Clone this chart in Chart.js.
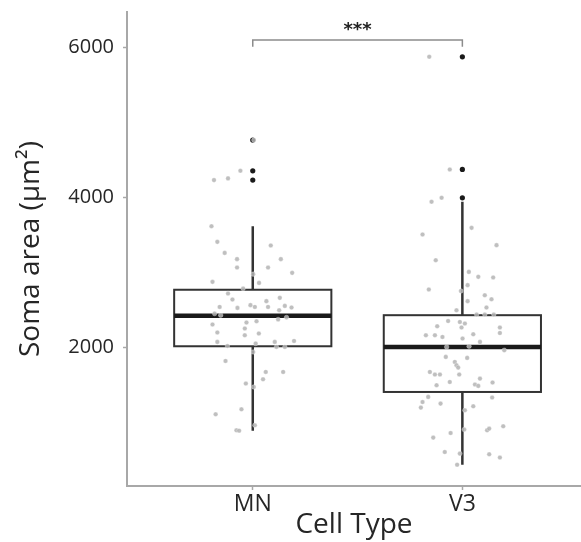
<!DOCTYPE html>
<html>
<head>
<meta charset="utf-8">
<script src="https://cdn.jsdelivr.net/npm/chart.js@4.4.1/dist/chart.umd.min.js"></script>
<style>
  html, body { margin: 0; padding: 0; background: #ffffff; }
  #wrap { width: 581px; height: 542px; }
</style>
</head>
<body>
<div id="wrap"><canvas id="chart" width="581" height="542"></canvas></div>
<script>
// Categories and y tick labels
const categories = ['MN', 'V3'];
const yTickValues = [2000, 4000, 6000];

// Box statistics, one entry per category
const q1Values = [2013, 1404];
const medianValues = [2418, 2004];
const q3Values = [2766, 2427];
const whiskerLowValues = [888, 434];
const whiskerHighValues = [3613, 3938];

// Outliers drawn at the category centre
const mnOutliers = [4227, 4351, 4760];
const v3Outliers = [3991, 4369, 5870];

// Individual cells (soma area) with their horizontal jitter offsets
const mnValues = [4227, 4250, 4351, 4760, 3613, 3404, 3257, 3174, 3062, 3356, 3174, 3062, 2991, 2974, 2857, 2871,
  2783, 2716, 2636, 2561, 2537, 2524, 2614, 2537, 2658, 2551, 2529, 2493, 2449, 2427, 2537, 2370, 2396, 2346,
  2329, 2303, 2197, 2250, 2160, 2183, 2071, 2017, 2050, 2071, 2004, 2004, 2084, 1937, 1817, 1671, 1671, 1573,
  1516, 1471, 1173, 1107, 960, 893, 888];
const mnJitter = [-0.185, -0.118, -0.059, 0.005, -0.197, -0.169, -0.134, -0.075, -0.075, 0.086, 0.134, 0.073, 0.188,
  0.002, 0.03, -0.192, -0.046, -0.118, -0.097, -0.011, 0.01, -0.073, 0.065, 0.073, 0.129, 0.153, 0.185, 0.126,
  -0.182, -0.153, -0.158, 0.121, 0.161, 0.018, -0.03, -0.192, -0.169, -0.038, -0.038, 0.029, -0.169, -0.121,
  0.014, 0.105, 0.113, 0.153, 0.197, 0.002, -0.13, 0.062, 0.145, 0.049, -0.033, 0.005, -0.054, -0.177, 0.01,
  -0.078, -0.065];

const v3Values = [5870, 4369, 3938, 3991, 3503, 3591, 3360, 3160, 3004, 2938, 2930, 2770, 2827, 2750, 2693, 2640,
  2614, 2529, 2493, 2436, 2436, 2436, 2350, 2337, 2316, 2280, 2263, 2263, 2190, 2160, 2160, 2137, 2173, 2116,
  2071, 2004, 2013, 1960, 1871, 1858, 1804, 1760, 1729, 1671, 1636, 1636, 1636, 1582, 1494, 1537, 1503, 1485,
  1530, 1338, 1270, 1196, 1249, 1213, 1330, 1160, 947, 893, 916, 857, 796, 903, 604, 583, 574, 530, 434];
const v3Jitter = [-0.158, -0.06, -0.147, -0.099, -0.19, 0.044, 0.163, -0.127, 0.031, 0.076, 0.147, -0.16, 0.025,
  -0.007, 0.107, 0.139, 0.025, 0.115, -0.028, 0.068, 0.107, 0.15, -0.068, -0.012, 0.012, -0.12, -0.004, 0.179,
  0.179, -0.174, -0.131, -0.095, 0.052, 0.001, 0.084, -0.075, 0.032, 0.2, -0.079, 0.023, -0.036, -0.028, -0.02,
  -0.155, -0.131, -0.107, -0.015, 0.084, -0.123, -0.06, 0.06, 0.076, 0.144, -0.163, -0.19, -0.198, -0.104, 0.052,
  0.142, 0.012, 0.195, 0.118, 0.128, -0.056, -0.139, 0.009, -0.084, -0.012, 0.128, 0.179, -0.025];

// Significance bracket between the two groups
const bracketValue = 6093;
const bracketDrop = 6004;
const significanceLabel = '***';

const FONT = "'Open Sans', 'DejaVu Sans', sans-serif";
const AXIS_GREY = '#a8a8a8';
const TEXT_DARK = '#262626';
const BOX_WIDTH = 0.75;

const jitterPoints = [
  ...mnValues.map((v, i) => ({ x: 1 + mnJitter[i], y: v })),
  ...v3Values.map((v, i) => ({ x: 2 + v3Jitter[i], y: v }))
];
const outlierPoints = [
  ...mnOutliers.map(v => ({ x: 1, y: v })),
  ...v3Outliers.map(v => ({ x: 2, y: v }))
];

// Box, median and whiskers for every category, drawn beneath the points
const boxPlugin = {
  id: 'boxes',
  beforeDatasetsDraw(chart) {
    const { ctx, scales: { x, y } } = chart;
    ctx.save();
    categories.forEach((cat, i) => {
      const cx = x.getPixelForValue(i + 1);
      const left = x.getPixelForValue(i + 1 - BOX_WIDTH / 2);
      const right = x.getPixelForValue(i + 1 + BOX_WIDTH / 2);
      const top = y.getPixelForValue(q3Values[i]);
      const bottom = y.getPixelForValue(q1Values[i]);
      const med = y.getPixelForValue(medianValues[i]);
      ctx.strokeStyle = '#333333';
      ctx.lineWidth = 2.5;
      ctx.beginPath();
      ctx.moveTo(cx, y.getPixelForValue(whiskerHighValues[i]));
      ctx.lineTo(cx, top);
      ctx.moveTo(cx, bottom);
      ctx.lineTo(cx, y.getPixelForValue(whiskerLowValues[i]));
      ctx.stroke();
      ctx.fillStyle = '#ffffff';
      ctx.fillRect(left, top, right - left, bottom - top);
      ctx.lineWidth = 2;
      ctx.strokeRect(left, top, right - left, bottom - top);
      ctx.strokeStyle = '#1a1a1a';
      ctx.lineWidth = 4.5;
      ctx.beginPath();
      ctx.moveTo(left, med);
      ctx.lineTo(right, med);
      ctx.stroke();
    });
    ctx.restore();
  }
};

// Bracket and significance stars above the groups
const signifPlugin = {
  id: 'signif',
  afterDraw(chart) {
    const { ctx, scales: { x, y } } = chart;
    const x1 = x.getPixelForValue(1);
    const x2 = x.getPixelForValue(2);
    const yb = y.getPixelForValue(bracketValue);
    const yd = y.getPixelForValue(bracketDrop);
    ctx.save();
    ctx.strokeStyle = '#8c8c8c';
    ctx.lineWidth = 1.5;
    ctx.beginPath();
    ctx.moveTo(x1, yd);
    ctx.lineTo(x1, yb);
    ctx.lineTo(x2, yb);
    ctx.lineTo(x2, yd);
    ctx.stroke();
    ctx.fillStyle = '#222222';
    ctx.font = "bold 18px 'DejaVu Sans', sans-serif";
    ctx.textAlign = 'center';
    ctx.textBaseline = 'middle';
    ctx.fillText(significanceLabel, (x1 + x2) / 2, yb - 10);
    ctx.restore();
  }
};

new Chart(document.getElementById('chart'), {
  type: 'scatter',
  data: {
    datasets: [
      {
        label: 'cells',
        data: jitterPoints,
        order: 0,
        pointRadius: 2.3,
        pointBackgroundColor: 'rgba(180,180,180,0.85)',
        pointBorderColor: 'rgba(255,255,255,0.6)',
        pointBorderWidth: 0.5
      },
      {
        label: 'outliers',
        data: outlierPoints,
        order: 1,
        pointRadius: 2.6,
        pointBackgroundColor: '#1a1a1a',
        pointBorderWidth: 0
      }
    ]
  },
  options: {
    responsive: false,
    animation: false,
    devicePixelRatio: 1,
    layout: { autoPadding: false, padding: { top: 12, right: 0, bottom: 0, left: 0 } },
    plugins: { legend: { display: false }, tooltip: { enabled: false } },
    scales: {
      x: {
        type: 'linear',
        min: 0.4,
        max: 2.566,
        afterBuildTicks(scale) { scale.ticks = categories.map((c, i) => ({ value: i + 1 })); },
        afterFit(scale) {
          scale.height = 56;
          scale.paddingLeft = 0;
          scale.paddingRight = 0;
        },
        ticks: {
          autoSkip: false,
          maxRotation: 0,
          padding: 1,
          color: TEXT_DARK,
          font: { family: FONT, size: 23 },
          callback: (value, index) => categories[index]
        },
        grid: { drawOnChartArea: false, drawTicks: true, tickLength: 4, tickColor: AXIS_GREY, tickWidth: 1.5 },
        border: { display: true, color: AXIS_GREY, width: 2 },
        title: {
          display: true,
          text: 'Cell Type',
          color: TEXT_DARK,
          font: { family: FONT, size: 28 },
          padding: { top: 0, bottom: 0 }
        }
      },
      y: {
        type: 'linear',
        min: 151,
        max: 6467,
        afterBuildTicks(scale) { scale.ticks = yTickValues.map(v => ({ value: v })); },
        afterFit(scale) {
          scale.width = 127;
          scale.paddingTop = 0;
          scale.paddingBottom = 0;
        },
        ticks: {
          padding: 9,
          color: TEXT_DARK,
          font: { family: FONT, size: 20 },
          callback: (value) => String(value)
        },
        grid: { drawOnChartArea: false, drawTicks: true, tickLength: 4, tickColor: AXIS_GREY, tickWidth: 1.5 },
        border: { display: true, color: AXIS_GREY, width: 2 },
        title: {
          display: true,
          text: 'Soma area (\u03bcm\u00b2)',
          color: TEXT_DARK,
          font: { family: FONT, size: 28 },
          padding: { top: 14, bottom: 0 }
        }
      }
    }
  },
  plugins: [boxPlugin, signifPlugin]
});
</script>
</body>
</html>
